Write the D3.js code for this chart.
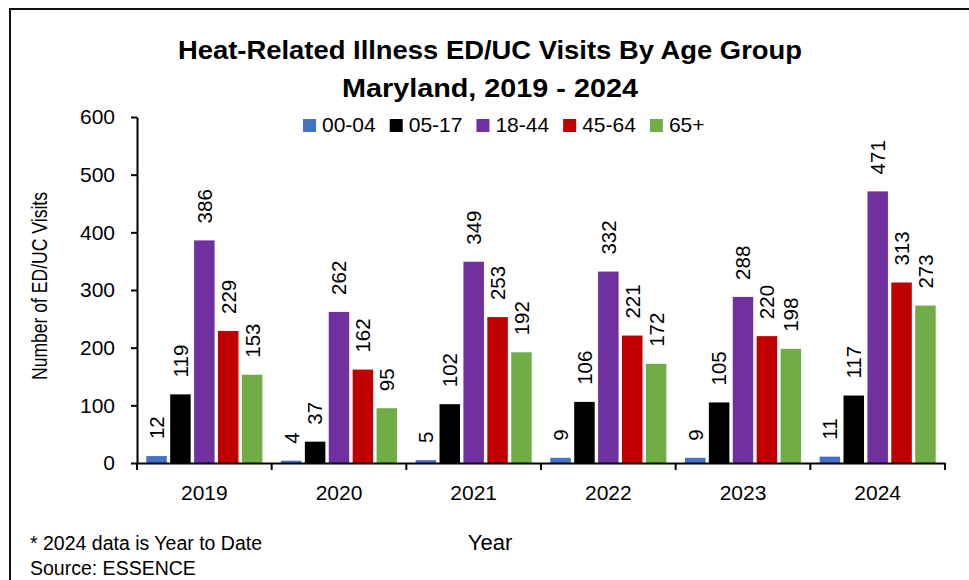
<!DOCTYPE html>
<html><head><meta charset="utf-8">
<script src="https://cdn.jsdelivr.net/npm/d3@7"></script>
<style>
html,body{margin:0;padding:0;background:#fff;}
svg{display:block;font-family:"Liberation Sans",Arial,sans-serif;}
</style></head>
<body>
<svg id="chart" width="969" height="580"></svg>
<script>
const years = ["2019","2020","2021","2022","2023","2024"];
const groups = ["00-04","05-17","18-44","45-64","65+"];
const v0004 = [12, 4, 5, 9, 9, 11];
const v0517 = [119, 37, 102, 106, 105, 117];
const v1844 = [386, 262, 349, 332, 288, 471];
const v4564 = [229, 162, 253, 221, 220, 313];
const v65p  = [153, 95, 192, 172, 198, 273];
const colors = ["#4472C4","#000000","#7030A0","#C00000","#70AD47"];
const yTicks = [0,100,200,300,400,500,600];
const titleLines = ["Heat-Related Illness ED/UC Visits By Age Group","Maryland, 2019 - 2024"];
const yTitle = "Number of ED/UC Visits";
const xTitle = "Year";
const notes = ["* 2024 data is Year to Date","Source: ESSENCE"];

const series = [v0004, v0517, v1844, v4564, v65p];
const svg = d3.select("#chart");

// border (left and top)
svg.append("path").attr("d","M10,580 V9 H969").attr("fill","none").attr("stroke","#111").attr("stroke-width",2);

const x0 = d3.scaleBand().domain(years).range([137, 945]).padding(0);
const x1 = d3.scaleBand().domain(groups).range([0, x0.bandwidth()]).paddingInner(0.142).paddingOuter(0.389);
const y = d3.scaleLinear().domain([0, 600]).range([463, 117]);

// bars
const g = svg.append("g");
years.forEach((yr, i) => {
  const gg = g.append("g").attr("transform", `translate(${x0(yr)},0)`);
  groups.forEach((grp, j) => {
    const val = series[j][i];
    gg.append("rect")
      .attr("x", x1(grp)).attr("width", x1.bandwidth())
      .attr("y", y(val)).attr("height", y(0) - y(val))
      .attr("fill", colors[j]);
    gg.append("text")
      .attr("transform", `translate(${x1(grp) + x1.bandwidth()/2},${y(val) - 17}) rotate(-90)`)
      .attr("dy","0.36em")
      .attr("font-size", 20.5).attr("fill","#000")
      .text(val);
  });
});

// y axis
const yAxis = svg.append("g").attr("transform","translate(137,0)")
  .call(d3.axisLeft(y).tickValues(yTicks).tickSizeInner(6).tickSizeOuter(0).tickPadding(16));
yAxis.attr("font-family",null);
yAxis.select(".domain").attr("stroke","#000").attr("stroke-width",2);
yAxis.selectAll(".tick line").attr("stroke","#000").attr("stroke-width",2);
yAxis.selectAll(".tick text").attr("font-size",21).attr("fill","#000");

// x axis
const xAxis = svg.append("g").attr("transform","translate(0,463)")
  .call(d3.axisBottom(x0).tickSize(0).tickPadding(22));
xAxis.attr("font-family",null);
xAxis.select(".domain").attr("stroke","#000").attr("stroke-width",2);
xAxis.selectAll(".tick text").attr("font-size",21).attr("fill","#000").attr("dy","0.71em");
const bounds = years.map(d => x0(d)).concat([x0.range()[1]]);
xAxis.selectAll(".bound").data(bounds).enter().append("line")
  .attr("x1", d => d).attr("x2", d => d).attr("y1", 0).attr("y2", 7)
  .attr("stroke","#000").attr("stroke-width",2);

// title
svg.append("text").attr("x",490).attr("y",59).attr("text-anchor","middle")
  .attr("font-size",26).attr("font-weight","bold")
  .attr("textLength",624).attr("lengthAdjust","spacingAndGlyphs").text(titleLines[0]);
svg.append("text").attr("x",490).attr("y",97).attr("text-anchor","middle")
  .attr("font-size",26).attr("font-weight","bold")
  .attr("textLength",296).attr("lengthAdjust","spacingAndGlyphs").text(titleLines[1]);

// legend
let lx = 303;
groups.forEach((grp, j) => {
  svg.append("rect").attr("x", lx).attr("y", 119).attr("width", 13).attr("height", 13).attr("fill", colors[j]);
  const t = svg.append("text").attr("x", lx + 19).attr("y", 132).attr("font-size", 21).text(grp);
  lx += 19 + t.node().getComputedTextLength() + 14;
});

// axis titles
svg.append("text").attr("transform","translate(47,286) rotate(-90)").attr("text-anchor","middle")
  .attr("font-size",22).attr("textLength",188).attr("lengthAdjust","spacingAndGlyphs").text(yTitle);
svg.append("text").attr("x",490).attr("y",550).attr("text-anchor","middle")
  .attr("font-size",22).text(xTitle);

// notes
svg.append("text").attr("x",30).attr("y",550).attr("font-size",19.5).text(notes[0]);
svg.append("text").attr("x",30).attr("y",575).attr("font-size",19.5).text(notes[1]);
</script>
</body></html>
